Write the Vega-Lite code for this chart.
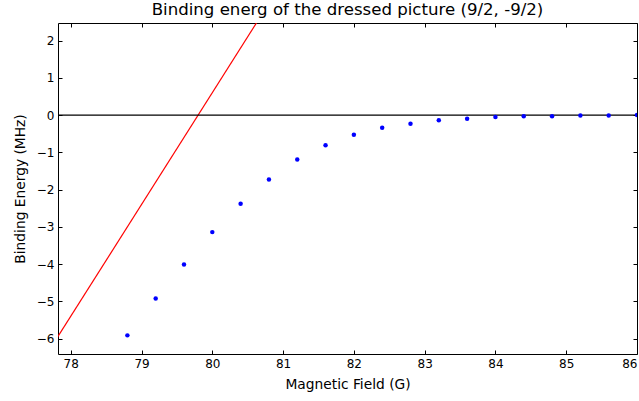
{
  "$schema": "https://vega.github.io/schema/vega-lite/v6.json",
  "width": 579,
  "height": 331,
  "autosize": "none",
  "padding": {"left": 58, "top": 23, "right": 2, "bottom": 47},
  "background": "white",
  "config": {
    "view": {"stroke": "black", "strokeWidth": 1},
    "font": "DejaVu Sans",
    "axis": {
      "grid": false,
      "domain": false,
      "tickColor": "black",
      "tickWidth": 1,
      "tickSize": -4,
      "labelFont": "DejaVu Sans",
      "labelFontSize": 12,
      "labelColor": "black",
      "titleFont": "DejaVu Sans",
      "titleFontSize": 13.8,
      "titleFontWeight": "normal",
      "titleColor": "black"
    }
  },
  "title": {
    "text": "Binding energ of the dressed picture (9/2, -9/2)",
    "font": "DejaVu Sans",
    "fontSize": 16.6,
    "fontWeight": "normal",
    "color": "black",
    "offset": 4
  },
  "datasets": {
    "red": [
      {"B": 77.5, "E": -6.9},
      {"B": 81.0, "E": 3.6}
    ],
    "points": [
      {"B": 78.8, "E": -5.91},
      {"B": 79.2, "E": -4.92},
      {"B": 79.6, "E": -4.01},
      {"B": 80.0, "E": -3.14},
      {"B": 80.4, "E": -2.38},
      {"B": 80.8, "E": -1.73},
      {"B": 81.2, "E": -1.19},
      {"B": 81.6, "E": -0.81},
      {"B": 82.0, "E": -0.53},
      {"B": 82.4, "E": -0.34},
      {"B": 82.8, "E": -0.23},
      {"B": 83.2, "E": -0.14},
      {"B": 83.6, "E": -0.1},
      {"B": 84.0, "E": -0.05},
      {"B": 84.4, "E": -0.03},
      {"B": 84.8, "E": -0.03},
      {"B": 85.2, "E": -0.01},
      {"B": 85.6, "E": -0.01},
      {"B": 86.0, "E": 0.0}
    ],
    "zero": [{"E": 0}]
  },
  "layer": [
    {
      "data": {"name": "red"},
      "mark": {"type": "line", "color": "#ff0000", "strokeWidth": 1.2, "clip": true},
      "encoding": {
        "x": {
          "field": "B", "type": "quantitative",
          "scale": {"domain": [77.82, 86], "nice": false, "zero": false},
          "axis": {"orient": "bottom", "values": [78, 79, 80, 81, 82, 83, 84, 85, 86], "title": "Magnetic Field (G)", "labelPadding": 8, "titlePadding": 8}
        },
        "y": {
          "field": "E", "type": "quantitative",
          "scale": {"domain": [-6.41, 2.47], "nice": false, "zero": false},
          "axis": {"orient": "left", "values": [-6, -5, -4, -3, -2, -1, 0, 1, 2], "title": "Binding Energy (MHz)", "labelPadding": 8, "titlePadding": 9}
        }
      }
    },
    {
      "data": {"name": "zero"},
      "mark": {"type": "rule", "color": "black", "strokeWidth": 1.2},
      "encoding": {
        "y": {"field": "E", "type": "quantitative", "axis": null}
      }
    },
    {
      "data": {"name": "points"},
      "mark": {"type": "point", "filled": true, "color": "#0000ff", "size": 20, "opacity": 1, "clip": true},
      "encoding": {
        "x": {
          "field": "B", "type": "quantitative",
          "axis": {"orient": "top", "values": [78, 79, 80, 81, 82, 83, 84, 85, 86], "labels": false, "title": null}
        },
        "y": {
          "field": "E", "type": "quantitative",
          "axis": {"orient": "right", "values": [-6, -5, -4, -3, -2, -1, 0, 1, 2], "labels": false, "title": null}
        }
      }
    }
  ],
  "resolve": {"axis": {"x": "independent", "y": "independent"}}
}
